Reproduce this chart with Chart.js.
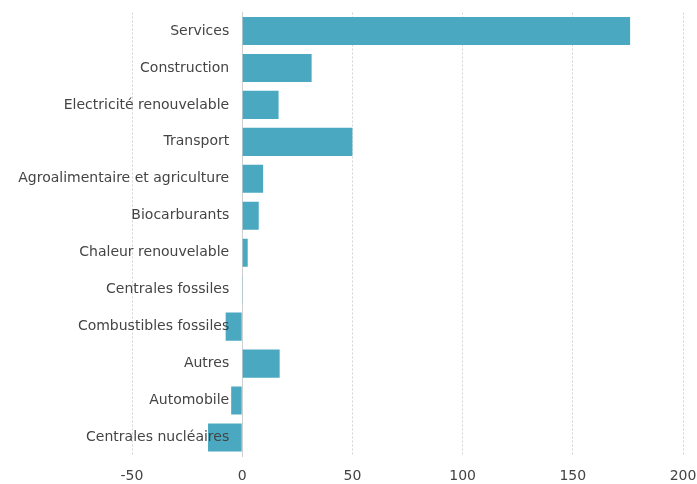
<!DOCTYPE html>
<html>
<head>
<meta charset="utf-8">
<script src="https://cdn.jsdelivr.net/npm/chart.js@4"></script>
<style>
  html, body { margin: 0; padding: 0; background: #ffffff; overflow: hidden; }
  canvas { display: block; }
</style>
</head>
<body>
<canvas id="c" width="697" height="484"></canvas>
<script>
// Secteurs et variation (emplois)
const sectors = [
  "Services",
  "Construction",
  "Electricité renouvelable",
  "Transport",
  "Agroalimentaire et agriculture",
  "Biocarburants",
  "Chaleur renouvelable",
  "Centrales fossiles",
  "Combustibles fossiles",
  "Autres",
  "Automobile",
  "Centrales nucléaires"
];
const variation = [176, 31.5, 16.5, 50, 9.5, 7.5, 2.5, 0.3, -7.5, 17, -5, -15.5];
const xTicks = [-50, 0, 50, 100, 150, 200];

const BAR = "#4aa9c1";
const TEXT = "#444444";
const FONT = "'DejaVu Sans'";

// Category names, right-aligned just left of the zero line, drawn above the bars
const sectorLabels = {
  id: "sectorLabels",
  afterDatasetsDraw(chart) {
    const { ctx, scales: { x, y } } = chart;
    const right = x.getPixelForValue(0) - 13;
    ctx.save();
    ctx.fillStyle = TEXT;
    ctx.font = "14px " + FONT;
    ctx.textAlign = "right";
    ctx.textBaseline = "middle";
    sectors.forEach((name, i) => {
      ctx.fillText(name, right, y.getPixelForValue(i));
    });
    ctx.restore();
  }
};

new Chart(document.getElementById("c"), {
  type: "bar",
  data: {
    labels: sectors,
    datasets: [{
      data: variation,
      backgroundColor: BAR,
      borderWidth: 0,
      barPercentage: 0.76,
      categoryPercentage: 1.0
    }]
  },
  options: {
    indexAxis: "y",
    responsive: false,
    animation: false,
    layout: { padding: { left: 132, right: 14, top: 12.5, bottom: 0 } },
    plugins: { legend: { display: false }, tooltip: { enabled: false } },
    scales: {
      x: {
        type: "linear",
        min: xTicks[0],
        max: xTicks[xTicks.length - 1],
        afterBuildTicks: (axis) => { axis.ticks = xTicks.map(v => ({ value: v })); },
        // fixed axis band below the plot; the layout padding already leaves room for edge labels
        afterFit: (s) => {
          s.height = 28;
          s.paddingLeft = 0; s.paddingRight = 0;
          s.paddingTop = 0; s.paddingBottom = 0;
        },
        grid: {
          color: (ctx) => ctx.tick && ctx.tick.value === 0 ? "rgba(0,0,0,0)" : "#d4d4d4",
          lineWidth: 1,
          drawTicks: false
        },
        border: { display: false, dash: [2, 2] },
        ticks: {
          color: TEXT,
          font: { family: FONT, size: 14 },
          padding: 12
        }
      },
      y: {
        position: { x: 0 },
        grid: { display: false },
        border: { display: true, color: "#cfcfcf", width: 1 },
        ticks: { display: false }
      }
    }
  },
  plugins: [sectorLabels]
});
</script>
</body>
</html>
